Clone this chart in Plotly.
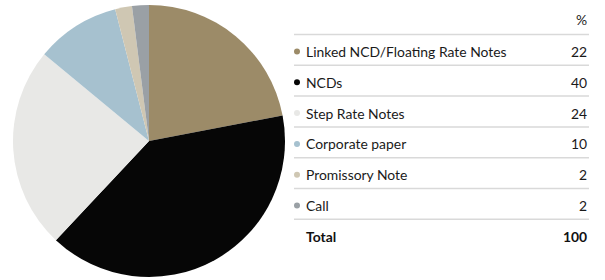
import plotly.graph_objects as go

categories = ["Linked NCD/Floating Rate Notes", "NCDs", "Step Rate Notes",
              "Corporate paper", "Promissory Note", "Call"]
values = [22, 40, 24, 10, 2, 2]
header_label = "%"
total_label = "Total"

colors = ["#9c8b68", "#060606", "#e8e8e6", "#a6c1cf", "#cfc7b3", "#9aa0a5"]

W, H = 605, 280
def px(x): return x / W
def py(y): return 1 - y / H

fig = go.Figure(go.Pie(
    labels=categories, values=values, sort=False, direction="clockwise",
    rotation=0, marker=dict(colors=colors, line=dict(width=0)),
    textinfo="none", hoverinfo="label+percent", showlegend=False,
    domain=dict(x=[px(13), px(285)], y=[py(277), py(5)]),
))

font = "Lato, 'Open Sans', sans-serif"
fs = 13.9
ann = []
shapes = []
left, right = 294, 589
row_y0 = 51.5
row_h = 30.8
# header
ann.append(dict(x=px(right), y=py(20), text=header_label, showarrow=False,
                xanchor="right", yanchor="middle", font=dict(size=fs, color="#222", family=font)))
line_ys = [34.5 + i * row_h for i in range(7)]
for ly in line_ys:
    shapes.append(dict(type="line", xref="paper", yref="paper", x0=px(left), x1=px(right),
                       y0=py(ly), y1=py(ly), line=dict(color="#d9d9d9", width=1.5)))
for i, (c, v) in enumerate(zip(categories, values)):
    yc = row_y0 + i * row_h
    shapes.append(dict(type="circle", xref="paper", yref="paper",
                       x0=px(294), x1=px(300), y0=py(yc - 3), y1=py(yc + 3),
                       fillcolor=colors[i], line=dict(width=0)))
    ann.append(dict(x=px(304), y=py(yc), text=c, showarrow=False, xanchor="left",
                    yanchor="middle", font=dict(size=fs, color="#1a1a1a", family=font)))
    ann.append(dict(x=px(right), y=py(yc), text=str(v), showarrow=False, xanchor="right",
                    yanchor="middle", font=dict(size=fs, color="#1a1a1a", family=font)))
yt = row_y0 + 6 * row_h
ann.append(dict(x=px(304), y=py(yt), text="<b>" + total_label + "</b>", showarrow=False,
                xanchor="left", yanchor="middle", font=dict(size=fs, color="#111", family=font)))
ann.append(dict(x=px(right), y=py(yt), text="<b>" + str(sum(values)) + "</b>", showarrow=False,
                xanchor="right", yanchor="middle", font=dict(size=fs, color="#111", family=font)))

fig.update_layout(width=W, height=H, margin=dict(l=0, r=0, t=0, b=0),
                  paper_bgcolor="white", plot_bgcolor="white",
                  annotations=ann, shapes=shapes)
fig.write_html("out.html", config={"displayModeBar": False},
               post_script="document.body.style.margin='0';document.body.style.overflow='hidden';")
